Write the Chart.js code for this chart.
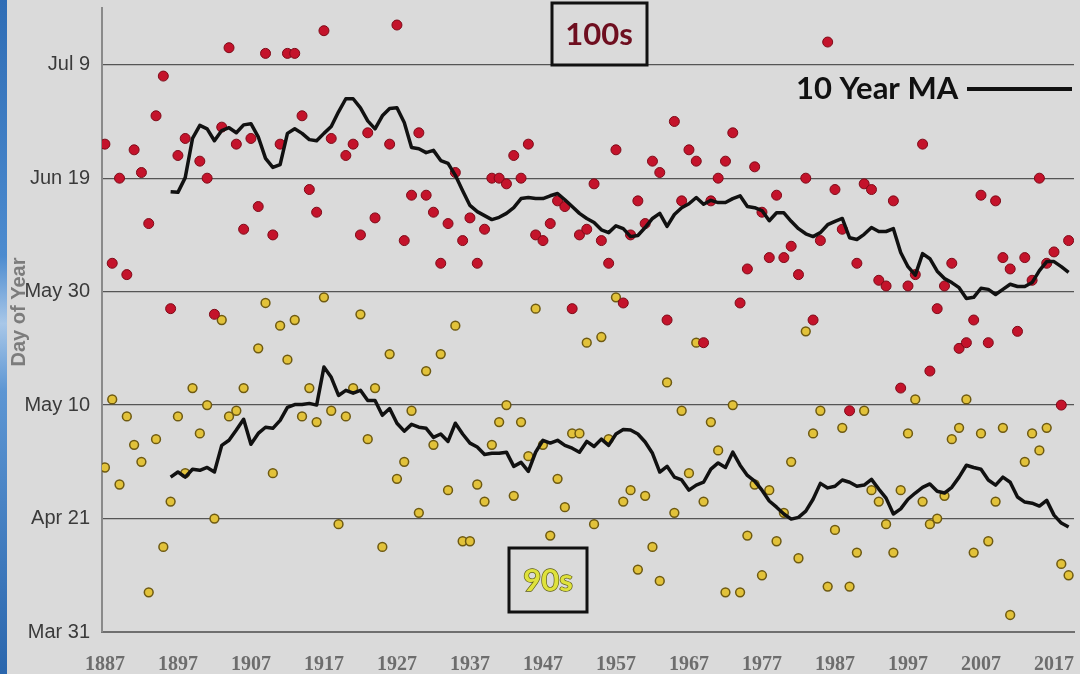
<!DOCTYPE html>
<html>
<head>
<meta charset="utf-8">
<title>First 100s and 90s - Day of Year</title>
<script src="https://cdn.jsdelivr.net/npm/chart.js@4"></script>
<style>
  html, body { margin: 0; padding: 0; background: #dadada; }
  #wrap { position: relative; width: 1080px; height: 674px; overflow: hidden; }
  #edge { position: absolute; left: 0; top: 0; width: 7px; height: 674px;
    background: linear-gradient(#2f6db5, #4c8bcf 38%, #a8c7e8 48%, #5d96d3 58%, #2a66ad); }
  canvas { position: absolute; left: 0; top: 0; }
</style>
</head>
<body>
<div id="wrap">
  <canvas id="heatChart" width="1080" height="674"></canvas>
  <div id="edge"></div>
</div>
<script>
// years on the x axis, one dot per year
const firstYear = 1887;
const years = Array.from({ length: 133 }, (_, i) => firstYear + i);
const xTicks = [1887, 1897, 1907, 1917, 1927, 1937, 1947, 1957, 1967, 1977, 1987, 1997, 2007, 2017];

// y axis is day of year
const yTickValues = [90, 110, 130, 150, 170, 190];
const yTickLabels = ['Mar 31', 'Apr 21', 'May 10', 'May 30', 'Jun 19', 'Jul 9'];

// first 100 degree day (1887 - 2019)
const first100 = [
  176, 155, 170, 153, 175, 171, 162, 181, 188, 147,
  174, 177, null, 173, 170, 146, 179, 193, 176, 161,
  177, 165, 192, 160, 176, 192, 192, 181, 168, 164,
  196, 177, null, 174, 176, 160, 178, 163, null, 176,
  197, 159, 167, 178, 167, 164, 155, 162, 171, 159,
  163, 155, 161, 170, 170, 169, 174, 170, 176, 160,
  159, 162, 166, 165, 147, 160, 161, 169, 159, 155,
  175, 148, 160, 166, 162, 173, 171, 145, 180, 166,
  175, 173, 141, 166, 170, 173, 178, 148, 154, 172,
  164, 156, 167, 156, 158, 153, 170, 145, 159, 194,
  168, 161, 129, 155, 169, 168, 152, 151, 166, 133,
  151, 153, 176, 136, 147, 151, 155, 140, 141, 145,
  167, 141, 166, 156, 154, 143, 156, 152, 170, 155,
  157, 130, 159
];

// first 90 degree day (1887 - 2019)
const first90 = [
  119, 131, 116, 128, 123, 120, 97, 124, 105, 113,
  128, 118, 133, 125, 130, 110, 145, 128, 129, 133,
  null, 140, 148, 118, 144, 138, 145, 128, 133, 127,
  149, 129, 109, 128, 133, 146, 124, 133, 105, 139,
  117, 120, 129, 111, 136, 123, 139, 115, 144, 106,
  106, 116, 113, 123, 127, 130, 114, 127, 121, 147,
  123, 107, 117, 112, 125, 125, 141, 109, 142, 124,
  149, 113, 115, 101, 114, 105, 99, 134, 111, 129,
  118, 141, 113, 127, 122, 97, 130, 97, 107, 116,
  100, 115, 106, 111, 120, 103, 143, 125, 129, 98,
  108, 126, 98, 104, 129, 115, 113, 109, 104, 115,
  125, 131, 113, 109, 110, 114, 124, 126, 131, 104,
  125, 106, 113, 126, 93, null, 120, 125, 122, 126,
  null, 102, 100
];

// 10 year moving averages (1896 - 2019)
const maStart = 1896;
const ma100 = [
  167.6, 167.5, 170.1, 177.0, 179.3, 178.7, 176.6, 178.4, 178.9, 178.0,
  179.4, 179.6, 177.3, 173.5, 171.9, 172.4, 177.9, 178.7, 177.9, 176.8,
  176.6, 177.9, 179.1, 181.7, 184.0, 184.0, 182.4, 180.1, 178.7, 181.0,
  182.3, 182.4, 179.8, 175.4, 175.2, 174.5, 174.9, 173.1, 172.6, 170.5,
  167.8, 165.2, 164.1, 163.4, 162.7, 163.1, 163.8, 164.8, 166.4, 166.6,
  166.4, 166.4, 166.9, 167.3, 166.2, 165.0, 163.8, 162.9, 162.2, 160.9,
  160.4, 161.6, 161.1, 159.7, 159.9, 161.3, 162.9, 163.8, 161.5, 163.6,
  164.8, 165.5, 166.6, 165.4, 166.1, 165.7, 165.7, 166.4, 166.9, 165.0,
  164.8, 164.3, 162.5, 163.9, 163.9, 162.4, 161.1, 160.2, 159.7, 160.4,
  161.8, 162.4, 162.9, 159.5, 159.2, 160.1, 161.3, 160.6, 160.6, 161.1,
  156.9, 154.4, 152.9, 156.7, 155.8, 153.6, 152.3, 151.6, 150.7, 148.8,
  149.0, 150.6, 150.4, 149.5, 150.4, 151.3, 150.9, 150.9, 151.6, 153.7,
  155.3, 155.3, 154.4, 153.4
];
const ma90 = [
  117.3, 118.2, 117.3, 118.7, 118.5, 119.0, 118.2, 122.9, 123.8, 125.6,
  127.5, 123.1, 125.0, 126.1, 125.9, 127.3, 129.6, 130.1, 130.1, 130.3,
  130.0, 136.7, 134.9, 131.7, 132.6, 132.1, 132.6, 130.8, 130.8, 128.2,
  129.4, 126.8, 125.4, 126.6, 126.1, 125.9, 124.3, 124.9, 123.6, 126.8,
  124.9, 123.3, 122.6, 121.3, 121.5, 121.5, 121.7, 119.2, 119.9, 118.3,
  121.7, 123.8, 123.3, 123.8, 122.9, 122.4, 121.7, 123.6, 122.7, 124.0,
  122.9, 124.9, 125.7, 125.6, 124.9, 123.5, 121.5, 118.2, 119.2, 117.3,
  116.8, 115.0, 115.9, 116.4, 118.7, 119.8, 119.0, 121.7, 119.4, 117.6,
  116.6, 115.0, 113.1, 112.0, 110.8, 109.9, 110.2, 111.3, 113.4, 116.2,
  115.4, 115.7, 116.8, 116.4, 115.7, 115.9, 116.9, 115.2, 113.6, 110.8,
  111.7, 113.4, 114.5, 115.5, 116.1, 114.8, 114.5, 115.5, 117.3, 119.4,
  119.0, 118.7, 116.8, 115.9, 117.3, 116.4, 113.8, 112.9, 112.7, 112.2,
  113.2, 110.6, 109.2, 108.5
];

function toPoints(values, start) {
  return values.map((v, i) => ({ x: start + i, y: v }));
}

// boxes and labels drawn on top of the plot
const notes = {
  id: 'notes',
  afterDraw(chart) {
    const ctx = chart.ctx;

    ctx.save();
    ctx.translate(19, 312);
    ctx.rotate(-Math.PI / 2);
    ctx.font = 'bold 20px "Liberation Sans", Arial, sans-serif';
    ctx.fillStyle = '#7c7c7c';
    ctx.textAlign = 'center';
    ctx.textBaseline = 'middle';
    ctx.fillText('Day of Year', 0, 0);
    ctx.restore();

    ctx.save();
    ctx.lineWidth = 3;
    ctx.strokeStyle = '#111';
    ctx.fillStyle = '#dadada';
    ctx.fillRect(552, 3, 95, 62);
    ctx.strokeRect(552, 3, 95, 62);
    ctx.fillRect(509, 548, 78, 64);
    ctx.strokeRect(509, 548, 78, 64);

    ctx.textAlign = 'center';
    ctx.textBaseline = 'middle';
    ctx.font = 'bold 31px Lato, sans-serif';
    ctx.fillStyle = '#6e0e1f';
    ctx.fillText('100s', 599, 35);

    ctx.lineWidth = 1.4;
    ctx.strokeStyle = '#5c5c14';
    ctx.fillStyle = '#dfe23c';
    ctx.strokeText('90s', 548, 581);
    ctx.fillText('90s', 548, 581);

    ctx.textAlign = 'left';
    ctx.fillStyle = '#111';
    ctx.fillText('10 Year MA', 796, 89);
    ctx.lineWidth = 4;
    ctx.strokeStyle = '#111';
    ctx.beginPath();
    ctx.moveTo(967, 89);
    ctx.lineTo(1072, 89);
    ctx.stroke();
    ctx.restore();
  }
};

const ctx = document.getElementById('heatChart').getContext('2d');
new Chart(ctx, {
  type: 'scatter',
  data: {
    datasets: [
      {
        label: '100s MA',
        type: 'line',
        data: toPoints(ma100, maStart),
        borderColor: '#111',
        borderWidth: 3.5,
        pointRadius: 0,
        tension: 0,
        borderJoinStyle: 'round',
        order: 1
      },
      {
        label: '90s MA',
        type: 'line',
        data: toPoints(ma90, maStart),
        borderColor: '#111',
        borderWidth: 3.5,
        pointRadius: 0,
        tension: 0,
        borderJoinStyle: 'round',
        order: 1
      },
      {
        label: 'First 100',
        data: toPoints(first100, firstYear),
        backgroundColor: '#c4132b',
        borderColor: '#7d0a18',
        borderWidth: 1,
        pointRadius: 5,
        order: 2
      },
      {
        label: 'First 90',
        data: toPoints(first90, firstYear),
        backgroundColor: '#e2c23a',
        borderColor: '#6e5a12',
        borderWidth: 1.5,
        pointRadius: 4.4,
        order: 3
      }
    ]
  },
  options: {
    responsive: false,
    animation: false,
    devicePixelRatio: 1,
    layout: { padding: { top: 8, right: 2, left: 0, bottom: 0 } },
    plugins: {
      legend: { display: false },
      tooltip: { enabled: false }
    },
    scales: {
      x: {
        type: 'linear',
        min: 1886.6,
        max: 2019.74,
        afterBuildTicks: (s) => { s.ticks = xTicks.map(v => ({ value: v })); },
        afterFit: (s) => {
          s.height = 42;
          s.paddingLeft = 0;
          s.paddingRight = 0;
        },
        ticks: {
          callback: (v) => String(v),
          autoSkip: false,
          maxRotation: 0,
          padding: 21,
          color: '#6d6d6d',
          font: { family: '"Liberation Serif", serif', weight: 'bold', size: 20 }
        },
        grid: { display: false, drawTicks: false },
        border: { display: true, color: '#6f6f6f', width: 2 }
      },
      y: {
        type: 'linear',
        min: 90,
        max: 200,
        afterBuildTicks: (s) => { s.ticks = yTickValues.map(v => ({ value: v })); },
        afterFit: (s) => {
          s.width = 102;
          s.paddingTop = 0;
          s.paddingBottom = 0;
        },
        ticks: {
          callback: (v) => yTickLabels[yTickValues.indexOf(v)],
          padding: 12,
          color: '#3a3a3a',
          font: { family: '"Liberation Sans", Arial, sans-serif', size: 20 }
        },
        grid: { color: '#555', lineWidth: 1.3, drawTicks: false },
        border: { display: true, color: '#8a8a8a', width: 2 }
      }
    }
  },
  plugins: [notes]
});
</script>
</body>
</html>
